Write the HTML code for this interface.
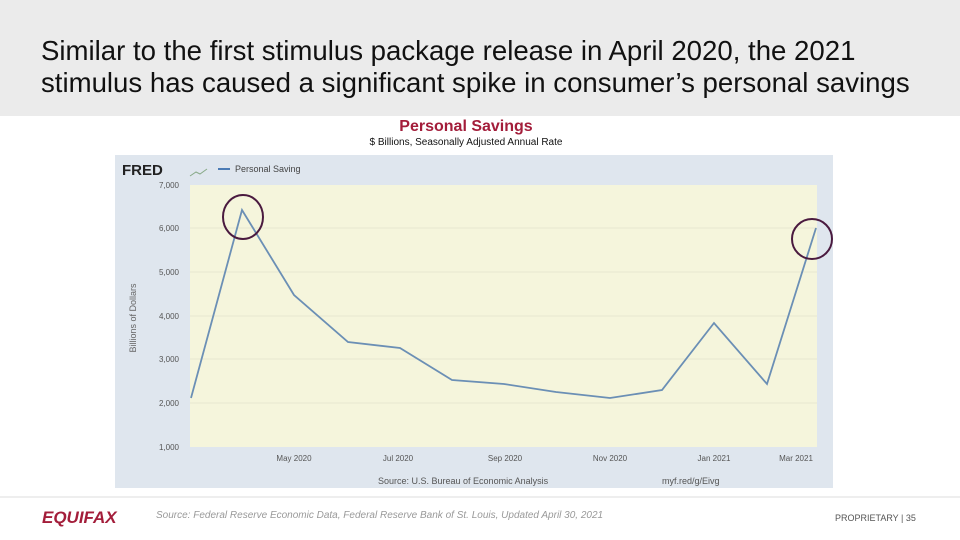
<!DOCTYPE html><html><head><style>
body{margin:0;width:960px;height:540px;position:relative;background:#fff;font-family:"Liberation Sans",sans-serif;overflow:hidden}
.hd{position:absolute;left:0;top:0;width:960px;height:116px;background:#ebebeb}
.hd div{position:absolute;left:41px;top:35px;font-size:27.6px;line-height:32px;color:#111;white-space:nowrap}
</style></head><body>
<div class="hd"><div>Similar to the first stimulus package release in April 2020, the 2021<br>stimulus has caused a significant spike in consumer’s personal savings</div></div>
<div style="position:absolute;left:0;width:932px;top:118px;text-align:center;font-size:16px;font-weight:bold;color:#a31d3a">Personal Savings</div>
<div style="position:absolute;left:0;width:932px;top:137px;text-align:center;font-size:10px;color:#111">$ Billions, Seasonally Adjusted Annual Rate</div>
<svg style="position:absolute;left:0;top:0" width="960" height="540">
<rect x="115" y="155" width="718" height="333" fill="#dfe6ee"/>
<rect x="190" y="185" width="627" height="262" fill="#f5f5dc"/>
<g stroke="#e8e8d0" stroke-width="1">
<line x1="190" x2="817" y1="228" y2="228"/><line x1="190" x2="817" y1="272" y2="272"/><line x1="190" x2="817" y1="316" y2="316"/><line x1="190" x2="817" y1="359" y2="359"/><line x1="190" x2="817" y1="403" y2="403"/></g>
<g font-size="8" fill="#555" text-anchor="end">
<text x="179" y="188">7,000</text><text x="179" y="231">6,000</text><text x="179" y="275">5,000</text><text x="179" y="319">4,000</text><text x="179" y="362">3,000</text><text x="179" y="406">2,000</text><text x="179" y="450">1,000</text></g>
<g font-size="8" fill="#555" text-anchor="middle">
<text x="294" y="461">May 2020</text><text x="398" y="461">Jul 2020</text><text x="505" y="461">Sep 2020</text><text x="610" y="461">Nov 2020</text><text x="714" y="461">Jan 2021</text><text x="796" y="461">Mar 2021</text></g>
<text x="136" y="318" font-size="9" fill="#666" transform="rotate(-90 136 318)" text-anchor="middle">Billions of Dollars</text>
<text x="122" y="175" font-size="15" font-weight="bold" fill="#222">FRED</text>
<polyline points="190,176 196,172 200,174 207,169" stroke="#8a8" fill="none"/>
<line x1="218" y1="169" x2="230" y2="169" stroke="#4b7bb5" stroke-width="2"/>
<text x="235" y="172" font-size="9" fill="#444">Personal Saving</text>
<text x="378" y="484" font-size="9" fill="#555">Source: U.S. Bureau of Economic Analysis</text>
<text x="662" y="484" font-size="9" fill="#555">myf.red/g/Eivg</text>
<polyline fill="none" stroke="#6b8fb5" stroke-width="1.8" points="191,398 242,210 294,295 348,342 400,348 452,380 504,384 556,392 610,398 662,390 714,323 767,384 816,228"/>
<ellipse cx="243" cy="217" rx="20" ry="22" fill="none" stroke="#4a1a3f" stroke-width="2"/>
<ellipse cx="812" cy="239" rx="20" ry="20" fill="none" stroke="#4a1a3f" stroke-width="2"/>
<line x1="0" x2="960" y1="497" y2="497" stroke="#ddd"/>
<text x="42" y="523" font-size="17" font-weight="bold" font-style="italic" fill="#a31d3a">EQUIFAX</text>
<text x="156" y="518" font-size="10" font-style="italic" fill="#999">Source: Federal Reserve Economic Data, Federal Reserve Bank of St. Louis, Updated April 30, 2021</text>
<text x="835" y="521" font-size="9" fill="#555">PROPRIETARY  |  35</text>
</svg>
</body></html>
